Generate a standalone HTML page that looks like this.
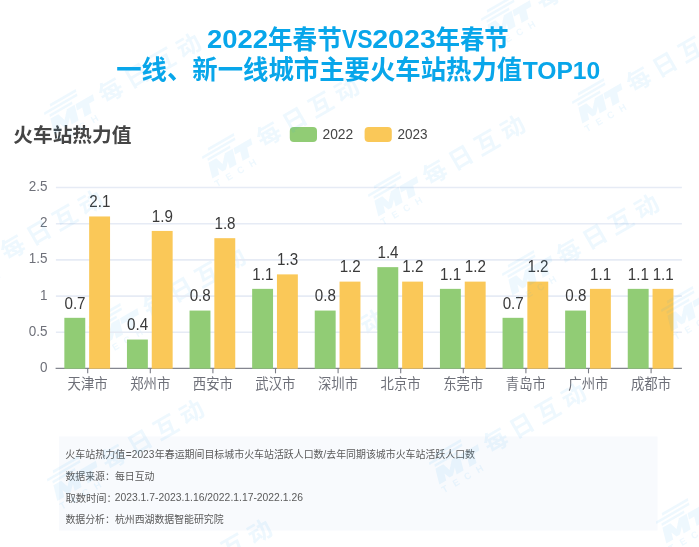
<!DOCTYPE html>
<html lang="zh-CN">
<head>
<meta charset="utf-8">
<title>2022年春节VS2023年春节 一线、新一线城市主要火车站热力值TOP10</title>
<style>
html,body{margin:0;padding:0;background:#fff;}
body{width:699px;height:547px;position:relative;overflow:hidden;font-family:"Liberation Sans", "Noto Sans CJK SC", sans-serif;}
svg{position:absolute;left:0;top:0;display:block;filter:blur(0.4px);}
</style>
</head>
<body>
<svg width="699" height="547" viewBox="0 0 699 547" font-family='"Liberation Sans", "Noto Sans CJK SC", sans-serif'>
<defs>
<g id="wmu" fill="rgba(40,165,240,0.08)">
  <g transform="translate(1,8) skewX(-16)">
    <rect x="-19" y="-22.6" width="30" height="2.5"/>
    <rect x="-27" y="-18.2" width="38" height="2.5"/>
    <rect x="-22" y="-13.8" width="26" height="2.5"/>
    <path d="M-22 6 L-22 -9.5 L-13 -9.5 L-8 -1.5 L-3 -9.5 L6 -9.5 L6 6 L-2 6 L-2 -1 L-6 5 L-10 5 L-14 -1 L-14 6 Z"/>
    <path d="M7 -9.5 L27 -9.5 L27 -3.5 L21 -3.5 L21 6 L13 6 L13 -3.5 L7 -3.5 Z"/>
  </g>
  <text x="-23" y="24" font-size="9.5" font-weight="bold" letter-spacing="6.8">TECH</text>
  <text x="36" y="13" font-size="24" font-weight="bold" letter-spacing="6">每日互动</text>
</g>
<clipPath id="cp1"><rect x="361" y="290" width="60" height="60"/></clipPath>
</defs>
<!-- note box -->
<rect x="59" y="436.5" width="598.5" height="94" fill="#f8fafd"/>
<!-- title -->
<g>
<text transform="translate(207.08,48.45) scale(1.0983,1)" font-size="24.93" font-weight="bold" fill="#08a6ea">2022</text>
<text transform="translate(268.04,48.92) scale(0.9418,1)" font-size="26.07" font-weight="bold" fill="#08a6ea">年春节</text>
<text transform="translate(341.98,48.45) scale(0.9252,1)" font-size="24.93" font-weight="bold" fill="#08a6ea">VS</text>
<text transform="translate(372.24,48.45) scale(1.1466,1)" font-size="24.93" font-weight="bold" fill="#08a6ea">2023</text>
<text transform="translate(435.44,48.92) scale(0.9391,1)" font-size="26.07" font-weight="bold" fill="#08a6ea">年春节</text>
<text transform="translate(116.21,79.34) scale(0.9536,1)" font-size="26.63" font-weight="bold" fill="#08a6ea">一线、新一线城市主要火车站热力值</text>
<text transform="translate(522.65,78.76) scale(1.0174,1)" font-size="24.23" font-weight="bold" fill="#08a6ea">TOP10</text>
</g>
<!-- subtitle + legend -->
<g>
<text transform="translate(13.31,142.13) scale(0.9995,1)" font-size="19.69" font-weight="bold" fill="#454545">火车站热力值</text>
<text transform="translate(322.51,138.56) scale(1.0007,1)" font-size="13.80" fill="#454545">2022</text>
<text transform="translate(397.42,138.56) scale(0.9814,1)" font-size="13.80" fill="#454545">2023</text>
<rect x="289.8" y="126.9" width="27.2" height="15.2" rx="4" fill="#91cc75"/>
<rect x="364.6" y="126.9" width="27.2" height="15.2" rx="4" fill="#fac858"/>
</g>
<!-- chart -->
<g>
<use href="#wmu" transform="translate(111.5,325) rotate(-30)"/>
<g clip-path="url(#cp1)"><use href="#wmu" transform="translate(251,387) rotate(-30)"/></g>
</g>
<g>
<line x1="55.6" y1="368.40" x2="681.9" y2="368.40" stroke="#84868f" stroke-width="1.2"/>
<line x1="87.70" y1="368.5" x2="87.70" y2="373.3" stroke="#7b7d86" stroke-width="1.1"/>
<line x1="150.30" y1="368.5" x2="150.30" y2="373.3" stroke="#7b7d86" stroke-width="1.1"/>
<line x1="212.90" y1="368.5" x2="212.90" y2="373.3" stroke="#7b7d86" stroke-width="1.1"/>
<line x1="275.50" y1="368.5" x2="275.50" y2="373.3" stroke="#7b7d86" stroke-width="1.1"/>
<line x1="338.10" y1="368.5" x2="338.10" y2="373.3" stroke="#7b7d86" stroke-width="1.1"/>
<line x1="400.70" y1="368.5" x2="400.70" y2="373.3" stroke="#7b7d86" stroke-width="1.1"/>
<line x1="463.30" y1="368.5" x2="463.30" y2="373.3" stroke="#7b7d86" stroke-width="1.1"/>
<line x1="525.90" y1="368.5" x2="525.90" y2="373.3" stroke="#7b7d86" stroke-width="1.1"/>
<line x1="588.50" y1="368.5" x2="588.50" y2="373.3" stroke="#7b7d86" stroke-width="1.1"/>
<line x1="651.10" y1="368.5" x2="651.10" y2="373.3" stroke="#7b7d86" stroke-width="1.1"/>
<line x1="55.9" y1="332.30" x2="681.9" y2="332.30" stroke="#e6ebf5" stroke-width="1.6"/>
<line x1="55.9" y1="296.10" x2="681.9" y2="296.10" stroke="#e6ebf5" stroke-width="1.6"/>
<line x1="55.9" y1="259.90" x2="681.9" y2="259.90" stroke="#e6ebf5" stroke-width="1.6"/>
<line x1="55.9" y1="223.70" x2="681.9" y2="223.70" stroke="#e6ebf5" stroke-width="1.6"/>
<line x1="55.9" y1="187.50" x2="681.9" y2="187.50" stroke="#e6ebf5" stroke-width="1.6"/>
<text transform="translate(47.40,371.90) scale(0.9200,1)" font-size="14.65" text-anchor="end" fill="#6e7079">0</text>
<text transform="translate(47.40,335.70) scale(0.9200,1)" font-size="14.65" text-anchor="end" fill="#6e7079">0.5</text>
<text transform="translate(47.40,299.50) scale(0.9200,1)" font-size="14.65" text-anchor="end" fill="#6e7079">1</text>
<text transform="translate(47.40,263.30) scale(0.9200,1)" font-size="14.65" text-anchor="end" fill="#6e7079">1.5</text>
<text transform="translate(47.40,227.10) scale(0.9200,1)" font-size="14.65" text-anchor="end" fill="#6e7079">2</text>
<text transform="translate(47.40,190.90) scale(0.9200,1)" font-size="14.65" text-anchor="end" fill="#6e7079">2.5</text>
<rect x="64.35" y="317.82" width="20.9" height="50.88" fill="#91cc75"/>
<rect x="89.15" y="216.46" width="20.9" height="152.24" fill="#fac858"/>
<text transform="translate(75.00,308.52) scale(0.9550,1)" font-size="15.92" text-anchor="middle" fill="#3a3a3a">0.7</text>
<text transform="translate(99.80,207.16) scale(0.9550,1)" font-size="15.92" text-anchor="middle" fill="#3a3a3a">2.1</text>
<text transform="translate(87.60,388.70) scale(0.9350,1)" font-size="14.30" text-anchor="middle" fill="#6e7079">天津市</text>
<rect x="126.95" y="339.54" width="20.9" height="29.16" fill="#91cc75"/>
<rect x="151.75" y="230.94" width="20.9" height="137.76" fill="#fac858"/>
<text transform="translate(137.60,330.24) scale(0.9550,1)" font-size="15.92" text-anchor="middle" fill="#3a3a3a">0.4</text>
<text transform="translate(162.40,221.64) scale(0.9550,1)" font-size="15.92" text-anchor="middle" fill="#3a3a3a">1.9</text>
<text transform="translate(150.20,388.70) scale(0.9350,1)" font-size="14.30" text-anchor="middle" fill="#6e7079">郑州市</text>
<rect x="189.55" y="310.58" width="20.9" height="58.12" fill="#91cc75"/>
<rect x="214.35" y="238.18" width="20.9" height="130.52" fill="#fac858"/>
<text transform="translate(200.20,301.28) scale(0.9550,1)" font-size="15.92" text-anchor="middle" fill="#3a3a3a">0.8</text>
<text transform="translate(225.00,228.88) scale(0.9550,1)" font-size="15.92" text-anchor="middle" fill="#3a3a3a">1.8</text>
<text transform="translate(212.80,388.70) scale(0.9350,1)" font-size="14.30" text-anchor="middle" fill="#6e7079">西安市</text>
<rect x="252.15" y="288.86" width="20.9" height="79.84" fill="#91cc75"/>
<rect x="276.95" y="274.38" width="20.9" height="94.32" fill="#fac858"/>
<text transform="translate(262.80,279.56) scale(0.9550,1)" font-size="15.92" text-anchor="middle" fill="#3a3a3a">1.1</text>
<text transform="translate(287.60,265.08) scale(0.9550,1)" font-size="15.92" text-anchor="middle" fill="#3a3a3a">1.3</text>
<text transform="translate(275.40,388.70) scale(0.9350,1)" font-size="14.30" text-anchor="middle" fill="#6e7079">武汉市</text>
<rect x="314.75" y="310.58" width="20.9" height="58.12" fill="#91cc75"/>
<rect x="339.55" y="281.62" width="20.9" height="87.08" fill="#fac858"/>
<text transform="translate(325.40,301.28) scale(0.9550,1)" font-size="15.92" text-anchor="middle" fill="#3a3a3a">0.8</text>
<text transform="translate(350.20,272.32) scale(0.9550,1)" font-size="15.92" text-anchor="middle" fill="#3a3a3a">1.2</text>
<text transform="translate(338.00,388.70) scale(0.9350,1)" font-size="14.30" text-anchor="middle" fill="#6e7079">深圳市</text>
<rect x="377.35" y="267.14" width="20.9" height="101.56" fill="#91cc75"/>
<rect x="402.15" y="281.62" width="20.9" height="87.08" fill="#fac858"/>
<text transform="translate(388.00,257.84) scale(0.9550,1)" font-size="15.92" text-anchor="middle" fill="#3a3a3a">1.4</text>
<text transform="translate(412.80,272.32) scale(0.9550,1)" font-size="15.92" text-anchor="middle" fill="#3a3a3a">1.2</text>
<text transform="translate(400.60,388.70) scale(0.9350,1)" font-size="14.30" text-anchor="middle" fill="#6e7079">北京市</text>
<rect x="439.95" y="288.86" width="20.9" height="79.84" fill="#91cc75"/>
<rect x="464.75" y="281.62" width="20.9" height="87.08" fill="#fac858"/>
<text transform="translate(450.60,279.56) scale(0.9550,1)" font-size="15.92" text-anchor="middle" fill="#3a3a3a">1.1</text>
<text transform="translate(475.40,272.32) scale(0.9550,1)" font-size="15.92" text-anchor="middle" fill="#3a3a3a">1.2</text>
<text transform="translate(463.20,388.70) scale(0.9350,1)" font-size="14.30" text-anchor="middle" fill="#6e7079">东莞市</text>
<rect x="502.55" y="317.82" width="20.9" height="50.88" fill="#91cc75"/>
<rect x="527.35" y="281.62" width="20.9" height="87.08" fill="#fac858"/>
<text transform="translate(513.20,308.52) scale(0.9550,1)" font-size="15.92" text-anchor="middle" fill="#3a3a3a">0.7</text>
<text transform="translate(538.00,272.32) scale(0.9550,1)" font-size="15.92" text-anchor="middle" fill="#3a3a3a">1.2</text>
<text transform="translate(525.80,388.70) scale(0.9350,1)" font-size="14.30" text-anchor="middle" fill="#6e7079">青岛市</text>
<rect x="565.15" y="310.58" width="20.9" height="58.12" fill="#91cc75"/>
<rect x="589.95" y="288.86" width="20.9" height="79.84" fill="#fac858"/>
<text transform="translate(575.80,301.28) scale(0.9550,1)" font-size="15.92" text-anchor="middle" fill="#3a3a3a">0.8</text>
<text transform="translate(600.60,279.56) scale(0.9550,1)" font-size="15.92" text-anchor="middle" fill="#3a3a3a">1.1</text>
<text transform="translate(588.40,388.70) scale(0.9350,1)" font-size="14.30" text-anchor="middle" fill="#6e7079">广州市</text>
<rect x="627.75" y="288.86" width="20.9" height="79.84" fill="#91cc75"/>
<rect x="652.55" y="288.86" width="20.9" height="79.84" fill="#fac858"/>
<text transform="translate(638.40,279.56) scale(0.9550,1)" font-size="15.92" text-anchor="middle" fill="#3a3a3a">1.1</text>
<text transform="translate(663.20,279.56) scale(0.9550,1)" font-size="15.92" text-anchor="middle" fill="#3a3a3a">1.1</text>
<text transform="translate(651.00,388.70) scale(0.9350,1)" font-size="14.30" text-anchor="middle" fill="#6e7079">成都市</text>
</g>
<!-- notes -->
<g>
<text transform="translate(65.30,458.26) scale(0.9608,1)" font-size="10.43" fill="#5a5a5a">火车站热力值</text>
<text transform="translate(125.84,458.29) scale(0.9228,1)" font-size="10.99" fill="#5a5a5a">=2023</text>
<text transform="translate(154.85,458.27) scale(0.9578,1)" font-size="10.37" fill="#5a5a5a">年春运期间目标城市火车站活跃人口数/去年同期该城市火车站活跃人口数</text>
<text transform="translate(65.45,480.16) scale(0.9495,1)" font-size="10.43" fill="#5a5a5a">数据来源：每日互动</text>
<text transform="translate(65.44,501.76) scale(0.9818,1)" font-size="10.48" fill="#5a5a5a">取数时间：</text>
<text transform="translate(114.68,500.83) scale(0.9125,1)" font-size="11.35" fill="#5a5a5a">2023.1.7-2023.1.16/2022.1.17-2022.1.26</text>
<text transform="translate(65.45,523.37) scale(0.9543,1)" font-size="10.37" fill="#5a5a5a">数据分析：杭州西湖数据智能研究院</text>
</g>
<!-- watermark -->
<g>
<use href="#wmu" transform="translate(67,111) rotate(-30)"/>
<use href="#wmu" transform="translate(225,155) rotate(-30)"/>
<use href="#wmu" transform="translate(391,193) rotate(-30)"/>
<use href="#wmu" transform="translate(525,272) rotate(-30)"/>
<use href="#wmu" transform="translate(504,17) rotate(-30)"/>
<use href="#wmu" transform="translate(595,100) rotate(-30)"/>
<use href="#wmu" transform="translate(-31,268) rotate(-30)"/>
<use href="#wmu" transform="translate(70,477.5) rotate(-30)"/>
<use href="#wmu" transform="translate(452,461) rotate(-30)"/>
<use href="#wmu" transform="translate(679,520) rotate(-30)"/>
<use href="#wmu" transform="translate(684,308) rotate(-30)"/>
<use href="#wmu" transform="translate(138,597) rotate(-30)"/>
</g>
</svg>
</body>
</html>
